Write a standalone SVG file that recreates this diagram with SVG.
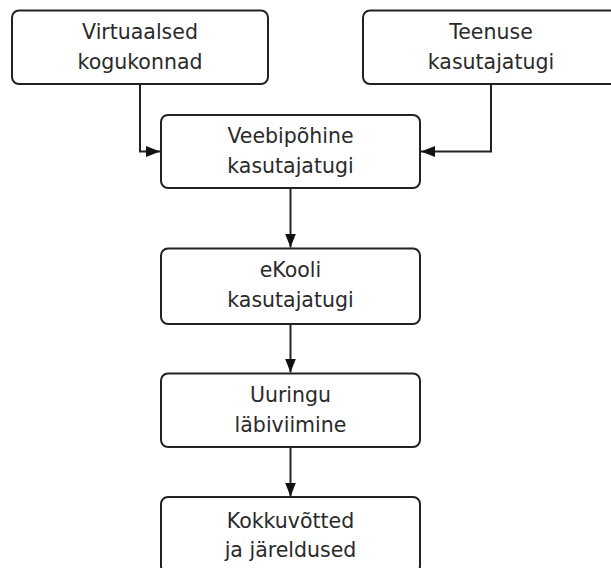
<svg xmlns="http://www.w3.org/2000/svg" width="611" height="568" viewBox="0 0 611 568">
<style>
.box{fill:#fff;stroke:#222;stroke-width:2}
.lbl{font-family:"DejaVu Sans",Verdana,sans-serif;font-size:20.5px;fill:#2a2a2a;text-anchor:middle}
.con{fill:none;stroke:#222;stroke-width:2}
</style>
<defs>
<marker id="arr" markerUnits="userSpaceOnUse" markerWidth="15" markerHeight="12" refX="14" refY="5.5" orient="auto">
<path d="M0,0 L14,5.5 L0,11 z" fill="#111"/>
</marker>
</defs>
<rect width="611" height="568" fill="#fff"/>
<g id="connectors">
<path class="con" d="M140,84 V151.5 H160" marker-end="url(#arr)"/>
<path class="con" d="M491,84 V151.5 H421" marker-end="url(#arr)"/>
<path class="con" d="M290.5,188 V247.5" marker-end="url(#arr)"/>
<path class="con" d="M290.5,324 V372.5" marker-end="url(#arr)"/>
<path class="con" d="M290.5,447 V496.5" marker-end="url(#arr)"/>
</g>
<g id="virtuaalsed">
<rect class="box" x="12" y="10.5" width="256" height="73.5" rx="7"/>
<text class="lbl" x="140" y="38.5">Virtuaalsed</text>
<text class="lbl" x="140" y="68.5">kogukonnad</text>
</g>
<g id="teenuse">
<rect class="box" x="363" y="10.5" width="256" height="73.5" rx="7"/>
<text class="lbl" x="491" y="38.5">Teenuse</text>
<text class="lbl" x="491" y="68.5">kasutajatugi</text>
</g>
<g id="veebipohine">
<rect class="box" x="161" y="115" width="259" height="73" rx="7"/>
<text class="lbl" x="290.5" y="143">Veebipõhine</text>
<text class="lbl" x="290.5" y="173">kasutajatugi</text>
</g>
<g id="ekooli">
<rect class="box" x="161" y="248.5" width="259" height="75.5" rx="7"/>
<text class="lbl" x="290.5" y="277">eKooli</text>
<text class="lbl" x="290.5" y="307">kasutajatugi</text>
</g>
<g id="uuring">
<rect class="box" x="161" y="373.5" width="259" height="73.5" rx="7"/>
<text class="lbl" x="290.5" y="402">Uuringu</text>
<text class="lbl" x="290.5" y="432">läbiviimine</text>
</g>
<g id="kokkuvotted">
<rect class="box" x="161" y="497" width="259" height="76" rx="7"/>
<text class="lbl" x="290.5" y="528">Kokkuvõtted</text>
<text class="lbl" x="290.5" y="557">ja järeldused</text>
</g>
</svg>
